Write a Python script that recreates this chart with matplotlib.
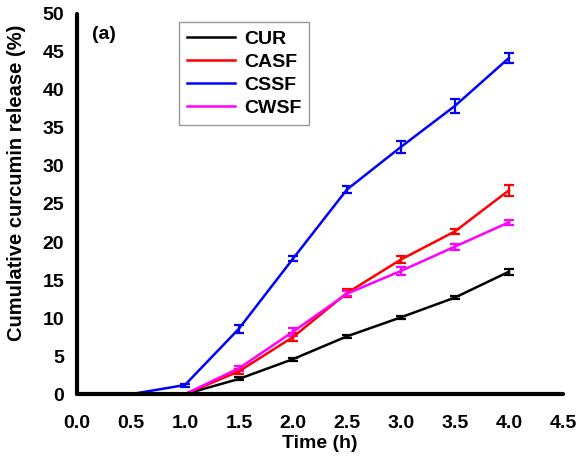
import numpy as np
import matplotlib.pyplot as plt

plt.rcParams['font.family'] = ['Liberation Sans', 'DejaVu Sans']
plt.rcParams['font.weight'] = 'bold'

# release data (%), time in hours
time_h = [0.0, 0.5, 1.0, 1.5, 2.0, 2.5, 3.0, 3.5, 4.0]

cur = [0, 0, 0, 2.0, 4.6, 7.6, 10.1, 12.7, 16.1]
cur_err = [0, 0, 0, 0.2, 0.2, 0.2, 0.2, 0.2, 0.4]

casf = [0, 0, 0, 3.0, 7.5, 13.3, 17.7, 21.4, 26.8]
casf_err = [0, 0, 0, 0.3, 0.5, 0.5, 0.5, 0.3, 0.7]

cssf = [0, 0, 1.2, 8.6, 17.8, 26.9, 32.5, 37.9, 44.2]
cssf_err = [0, 0, 0.2, 0.5, 0.3, 0.5, 0.8, 0.9, 0.6]

cwsf = [0, 0, 0, 3.4, 8.2, 13.2, 16.2, 19.4, 22.6]
cwsf_err = [0, 0, 0, 0.3, 0.5, 0.3, 0.5, 0.4, 0.3]

labels = ['CUR', 'CASF', 'CSSF', 'CWSF']
colors = ['black', 'red', 'blue', 'magenta']

fig = plt.figure(figsize=(5.78, 4.61), dpi=100)
ax = fig.add_axes([0.133, 0.145, 0.841, 0.825])

for y, e, lab, c in zip([cur, casf, cssf, cwsf],
                        [cur_err, casf_err, cssf_err, cwsf_err],
                        labels, colors):
    ax.errorbar(time_h, y, yerr=e, color=c, lw=1.8, capsize=3.5,
                capthick=1.6, elinewidth=1.6, label=lab)

ax.set_xlim(0, 4.5)
ax.set_ylim(0, 50)
ax.set_xticks(np.arange(0, 4.51, 0.5))
ax.set_xticklabels(['%.1f' % v for v in np.arange(0, 4.51, 0.5)])
ax.set_yticks(range(0, 51, 5))
ax.tick_params(length=0, labelsize=14)
ax.tick_params(axis='x', pad=15)
ax.tick_params(axis='y', pad=9)

for s in ['top', 'right']:
    ax.spines[s].set_visible(False)
for s in ['left', 'bottom']:
    ax.spines[s].set_linewidth(3)
    ax.spines[s].set_capstyle('round')

ax.set_xlabel('Time (h)', fontsize=14, fontweight='bold')
ax.set_ylabel('Cumulative curcumin release (%)', fontsize=14.5,
              fontweight='bold')
ax.xaxis.set_label_coords(0.5, -0.108)
ax.yaxis.set_label_coords(-0.104, 0.555)

ax.text(0.032, 0.935, '(a)', transform=ax.transAxes, fontsize=14,
        fontweight='bold')

handles, labs = ax.get_legend_handles_labels()
handles = [h[0] for h in handles]
leg = ax.legend(handles, labs, loc='upper left', bbox_to_anchor=(0.21, 0.978),
                frameon=True, fancybox=False, edgecolor='gray',
                handlelength=2.5, handletextpad=0.45, labelspacing=0.28,
                borderpad=0.4, borderaxespad=0,
                prop={'weight': 'bold', 'size': 14})
leg.get_frame().set_linewidth(1)

fig.savefig('out.png', dpi=100)
